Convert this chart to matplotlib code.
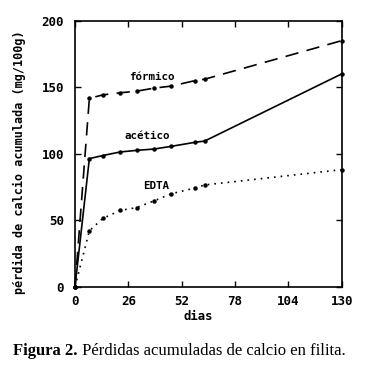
import matplotlib
matplotlib.use("Agg")
import matplotlib.pyplot as plt

# datos (dias, mg/100g)
dias = [0, 7, 13.5, 22, 30, 38.5, 46.8, 58.6, 63.2, 130]
formico = [0, 141.6, 144.2, 145.8, 147, 149.3, 150.8, 155, 156, 185]
acetico = [0, 96.3, 98.6, 101.3, 102.5, 103.5, 105.5, 108.6, 109.5, 160]
edta = [0, 42, 51.3, 57.3, 59.5, 64.5, 69.8, 74.3, 76.5, 88]

xticks = [0, 26, 52, 78, 104, 130]
yticks = [0, 50, 100, 150, 200]

mono = "DejaVu Sans Mono"

fig = plt.figure(figsize=(3.7, 3.7), dpi=100)
ax = fig.add_axes([75 / 370, 1 - 286.7 / 370, 266.7 / 370, 266 / 370])

ax.plot(dias, formico, color="black", lw=1.2, dashes=(8, 5),
        marker="o", ms=2.2, clip_on=False)
ax.plot(dias, acetico, color="black", lw=1.2, marker="o", ms=2.2,
        clip_on=False)
ax.plot(dias, edta, color="black", lw=1.2, ls=(0, (1, 3)),
        marker="o", ms=2.2, clip_on=False)

ax.text(37.5, 158, "fórmico", family=mono, weight="bold", fontsize=7.8,
        ha="center", va="center")
ax.text(35.2, 113, "acético", family=mono, weight="bold", fontsize=7.8,
        ha="center", va="center")
ax.text(39.3, 76, "EDTA", family=mono, weight="bold", fontsize=7.8,
        ha="center", va="center")

ax.set_xlim(0, 130)
ax.set_ylim(0, 200)
ax.set_xticks(xticks)
ax.set_yticks(yticks)
ax.tick_params(direction="in", top=True, right=True, length=4, width=1)
ax.tick_params(axis="x", pad=6)
ax.tick_params(axis="y", pad=8)
for lab in ax.get_xticklabels() + ax.get_yticklabels():
    lab.set_family(mono)
    lab.set_weight("bold")
    lab.set_fontsize(9)
for s in ax.spines.values():
    s.set_linewidth(1.2)

fig.text(198 / 370, 1 - 317 / 370, "dias", family=mono, weight="bold",
         fontsize=8.8, ha="center", va="center")
fig.text(19 / 370, 1 - 162.5 / 370, "pérdida de calcio acumulada (mg/100g)",
         family=mono, weight="bold", fontsize=8.5, rotation=90,
         ha="center", va="center")

t1 = fig.text(13 / 370, 1 - 355 / 370, "Figura 2.", family="Liberation Serif",
              weight="bold", fontsize=12, va="baseline")
ax.annotate(" Pérdidas acumuladas de calcio en filita.", xy=(1, 0),
            xycoords=t1, va="bottom", family="Liberation Serif", fontsize=12,
            annotation_clip=False)

fig.savefig("out.png", dpi=100)
